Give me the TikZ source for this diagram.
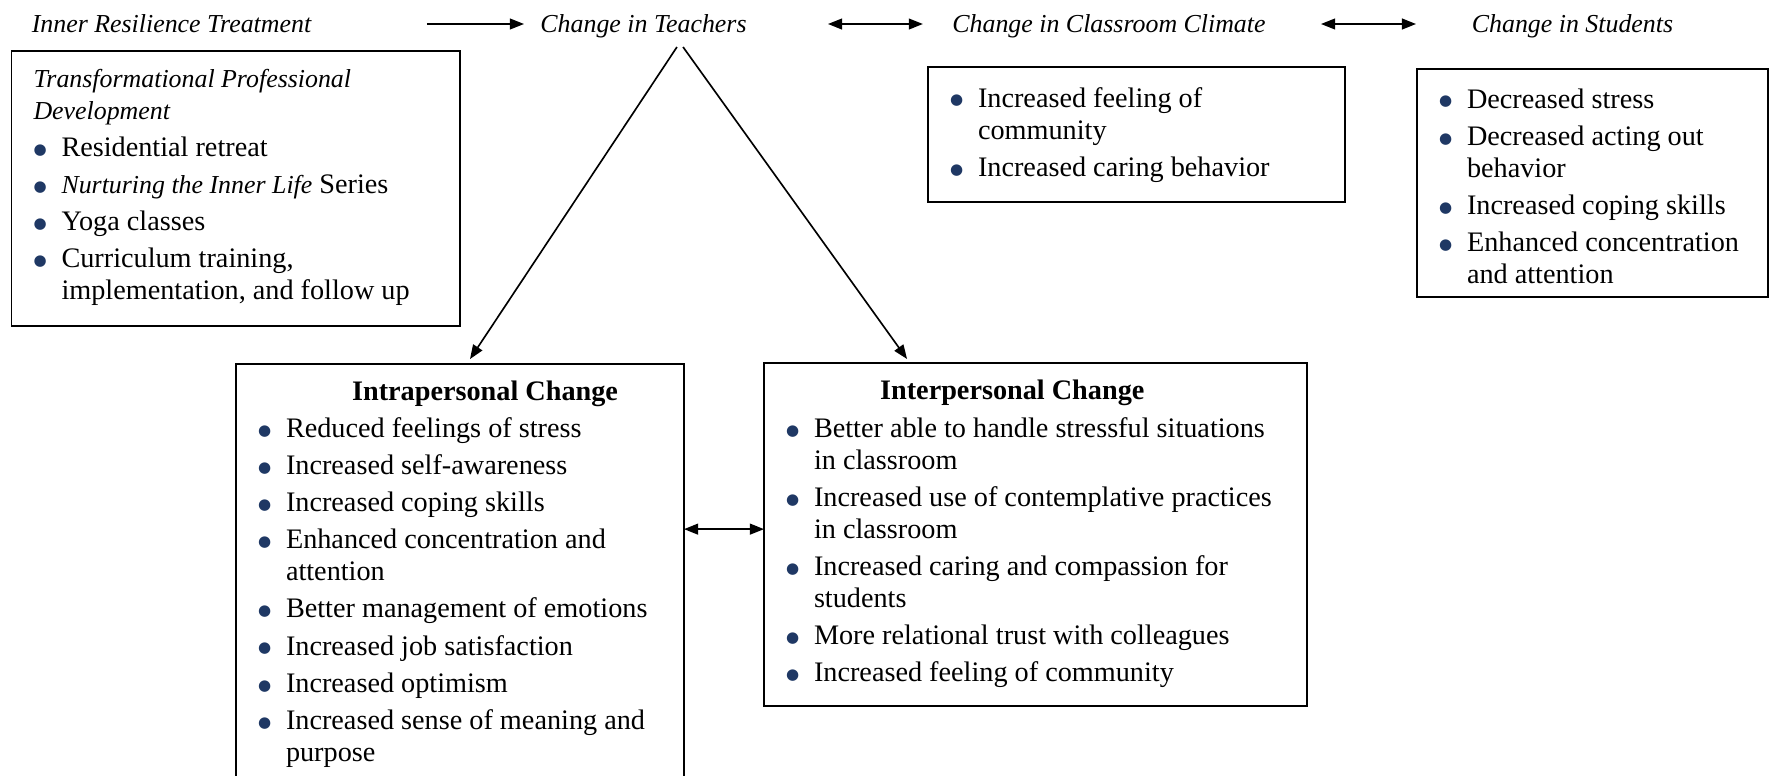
\documentclass[tikz,border=0pt]{standalone}
\usepackage{fontspec}
\setmainfont{Liberation Serif}
\newfontfamily\dotfont{DejaVu Sans}
\usetikzlibrary{arrows.meta}
\definecolor{dotblue}{HTML}{1F3864}

% bullet line, bold box title, italic run, and a box body of fixed height
\newcommand{\bul}[1]{\noindent\hangindent=11.9pt\hangafter=1\makebox[11.9pt][l]{\raisebox{0.9pt}{\textcolor{dotblue}{\dotfont\fontsize{6.4}{6.4}\selectfont ●}}}#1\par}
\newcommand{\boxhead}[1]{\noindent\hspace*{40pt}\textbf{#1}\par}
\newcommand{\itl}[1]{{\fontsize{11}{13.6}\selectfont\itshape #1}}
\newcommand{\boxlist}[4]{\parbox[t][#1][t]{#2}{\fontsize{12}{13.6}\selectfont\raggedright\parskip=2.2pt\noindent\rule{0pt}{#3}#4}}

\tikzstyle{heading}=[
    font=\fontsize{11}{13}\selectfont\itshape,
    anchor=base,
    inner sep=0pt,
    outer sep=0pt,
    text height=8pt,
    text depth=1.2pt,
  ]
\tikzstyle{listbox}=[
    draw,
    line width=0.8pt,
    anchor=north west,
    inner xsep=9.35pt,
    inner ysep=0pt,
    outer sep=0pt,
  ]
\tikzstyle{flow}=[
    -{Triangle[length=6pt,width=4.6pt]},
    line width=0.7pt,
  ]
\tikzstyle{twoway}=[
    {Triangle[length=6pt,width=4.6pt]}-{Triangle[length=6pt,width=4.6pt]},
    line width=0.7pt,
  ]

\begin{document}
\begin{tikzpicture}[x=0.425pt, y=-0.425pt]
      \useasboundingbox (0,0) rectangle (1769,775);
      \clip (0,0) rectangle (1769,775);
      % headings along the top
      \node[heading, minimum width=121.1pt] (treat) at (171.5,32) {Inner Resilience Treatment};
      \node[heading, minimum width=86.3pt] (teachers) at (643.5,32) {Change in Teachers};
      \node[heading, minimum width=135.2pt] (climate) at (1109,32) {Change in Classroom Climate};
      \node[heading, minimum width=88.8pt] (students) at (1572.5,32) {Change in Students};
      % boxes
      \node[listbox] (treatbox) at (11.5,51) {\boxlist{116.9pt}{171.9pt}{15.3pt}{%
        \itl{Transformational Professional\newline Development}\par
        \bul{Residential retreat}
        \bul{\itl{Nurturing the Inner Life} Series}
        \bul{Yoga classes}
        \bul{Curriculum training,\newline implementation, and follow up}}};
      \node[listbox] (climatebox) at (928,67) {\boxlist{57.4pt}{158.5pt}{17pt}{%
        \bul{Increased feeling of\newline community}
        \bul{Increased caring behavior}}};
      \node[listbox] (studentsbox) at (1417,69) {\boxlist{96.9pt}{130.5pt}{16.6pt}{%
        \bul{Decreased stress}
        \bul{Decreased acting out\newline behavior}
        \bul{Increased coping skills}
        \bul{Enhanced concentration\newline and attention}}};
      \node[listbox] (intra) at (236,364) {\boxlist{185.3pt}{171.7pt}{15.3pt}{%
        \boxhead{Intrapersonal Change}
        \bul{Reduced feelings of stress}
        \bul{Increased self-awareness}
        \bul{Increased coping skills}
        \bul{Enhanced concentration and\newline attention}
        \bul{Better management of emotions}
        \bul{Increased job satisfaction}
        \bul{Increased optimism}
        \bul{Increased sense of meaning and\newline purpose}}};
      \node[listbox] (inter) at (764,363) {\boxlist{145.8pt}{212.1pt}{15.7pt}{%
        \boxhead{Interpersonal Change}
        \bul{Better able to handle stressful situations\newline in classroom}
        \bul{Increased use of contemplative practices\newline in classroom}
        \bul{Increased caring and compassion for\newline students}
        \bul{More relational trust with colleagues}
        \bul{Increased feeling of community}}};
      % connectors
      \coordinate (apex) at (680,47);
      \coordinate (pair) at ([yshift=2.3pt]inter.west);
      \draw[flow, shorten <=48pt, shorten >=7pt] (treat.east) -- (teachers.west);
      \draw[twoway, shorten <=34.6pt, shorten >=11.5pt] (teachers.east) -- (climate.west);
      \draw[twoway, shorten <=22.5pt, shorten >=22.1pt] (climate.east) -- (students.west);
      \draw[flow] ([xshift=-1.3pt]apex) -- ([xshift=4.25pt,yshift=2.1pt]intra.north);
      \draw[flow] ([xshift=1.3pt]apex) -- ([xshift=60.8pt,yshift=1.7pt]inter.north west);
      \draw[twoway] (pair -| intra.east) -- (pair);
    \end{tikzpicture}
\end{document}
